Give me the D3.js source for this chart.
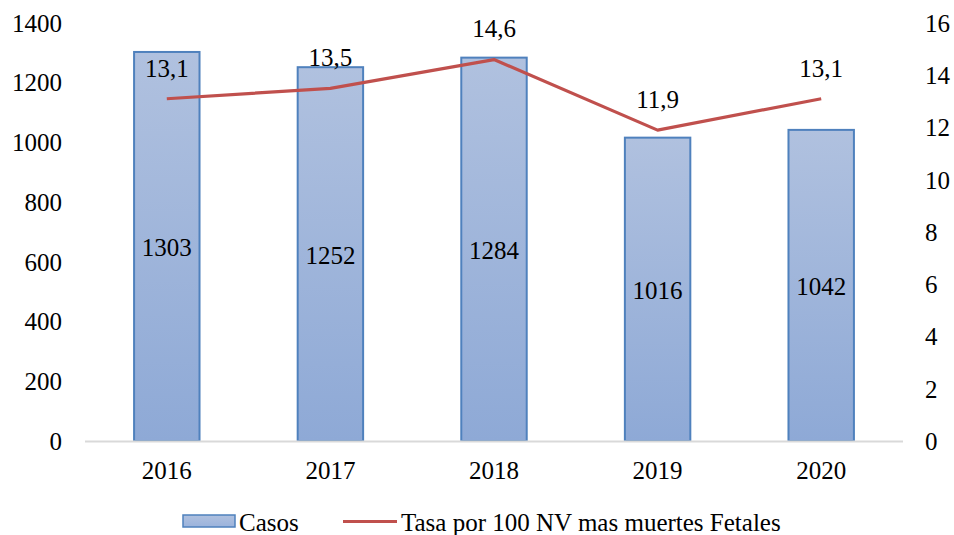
<!DOCTYPE html>
<html><head><meta charset="utf-8">
<script src="https://cdn.jsdelivr.net/npm/d3@7"></script>
<style>body{margin:0;background:#fff}svg{display:block}text{font-family:"Liberation Serif","DejaVu Serif",serif;fill:#000}</style>
</head><body><svg id="c" width="954" height="535"></svg>
<script>
const years = ["2016","2017","2018","2019","2020"];
const casos = [1303,1252,1284,1016,1042];
const tasa = [13.1,13.5,14.6,11.9,13.1];
const leftTicks = [0,200,400,600,800,1000,1200,1400];
const rightTicks = [0,2,4,6,8,10,12,14,16];
const seriesNames = ["Casos","Tasa por 100 NV mas muertes Fetales"];

const svg = d3.select("#c");
const x0 = 85, x1 = 903, yb = 441, yt = 23;
const x = d3.scaleBand().domain(years).range([x0,x1]).paddingInner(0.6).paddingOuter(0.3);
const yL = d3.scaleLinear().domain([0,1400]).range([yb,yt]);
const yR = d3.scaleLinear().domain([0,16]).range([yb,yt]);
const fs = 25;

const defs = svg.append("defs");
const g = defs.append("linearGradient").attr("id","bg").attr("x1",0).attr("y1",0).attr("x2",0).attr("y2",1);
g.append("stop").attr("offset","0%").attr("stop-color","#b0c1df");
g.append("stop").attr("offset","100%").attr("stop-color","#8ea9d6");
const gl = defs.append("linearGradient").attr("id","lg").attr("x1",0).attr("y1",0).attr("x2",0).attr("y2",1);
gl.append("stop").attr("offset","0%").attr("stop-color","#b0c1df");
gl.append("stop").attr("offset","100%").attr("stop-color","#9bb3dc");

// left axis labels
svg.append("g").selectAll("text").data(leftTicks).join("text")
  .attr("x",62).attr("y",d=>yL(d)).attr("dy","0.35em").attr("text-anchor","end")
  .attr("font-size",fs).text(d=>d);
// right axis labels
svg.append("g").selectAll("text").data(rightTicks).join("text")
  .attr("x",925).attr("y",d=>yR(d)).attr("dy","0.35em").attr("text-anchor","start")
  .attr("font-size",fs).text(d=>d);

// bars
svg.append("g").selectAll("rect").data(casos).join("rect")
  .attr("x",(d,i)=>x(years[i])).attr("y",d=>yL(d))
  .attr("width",x.bandwidth()).attr("height",d=>yb-yL(d))
  .attr("fill","url(#bg)").attr("stroke","#4f81bd").attr("stroke-width",2);

// x axis line
svg.append("line").attr("x1",x0).attr("x2",x1).attr("y1",yb+0.5).attr("y2",yb+0.5)
  .attr("stroke","#d9d9d9").attr("stroke-width",2);

// x labels
svg.append("g").selectAll("text").data(years).join("text")
  .attr("x",d=>x(d)+x.bandwidth()/2).attr("y",470).attr("dy","0.35em")
  .attr("text-anchor","middle").attr("font-size",fs).text(d=>d);

// bar value labels
svg.append("g").selectAll("text").data(casos).join("text")
  .attr("x",(d,i)=>x(years[i])+x.bandwidth()/2).attr("y",d=>(yL(d)+yb)/2+1).attr("dy","0.35em")
  .attr("text-anchor","middle").attr("font-size",fs).text(d=>d);

// line
const cx = i => x(years[i])+x.bandwidth()/2;
svg.append("path").datum(tasa)
  .attr("d",d3.line().x((d,i)=>cx(i)).y(d=>yR(d)))
  .attr("fill","none").attr("stroke","#c0504d").attr("stroke-width",3.2).attr("stroke-linejoin","round");

// line labels
svg.append("g").selectAll("text").data(tasa).join("text")
  .attr("x",(d,i)=>cx(i)).attr("y",d=>yR(d)-31).attr("dy","0.35em")
  .attr("text-anchor","middle").attr("font-size",fs).text(d=>String(d).replace(".",","));

// legend
svg.append("rect").attr("x",183).attr("y",515).attr("width",52).attr("height",12)
  .attr("fill","url(#lg)").attr("stroke","#4f81bd").attr("stroke-width",1.5);
svg.append("text").attr("x",239).attr("y",522).attr("dy","0.35em").attr("font-size",fs).text(seriesNames[0]);
svg.append("line").attr("x1",343).attr("x2",397).attr("y1",521.5).attr("y2",521.5)
  .attr("stroke","#c0504d").attr("stroke-width",3.2);
svg.append("text").attr("x",401).attr("y",522).attr("dy","0.35em").attr("font-size",fs).text(seriesNames[1]);
</script></body></html>
